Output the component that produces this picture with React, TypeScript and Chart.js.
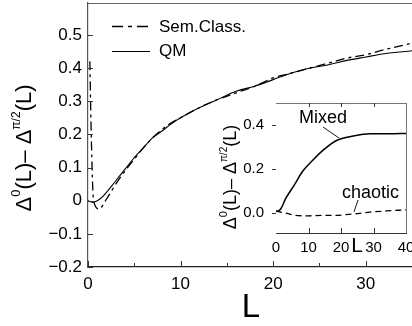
import React, { useEffect, useRef } from "react";
import Chart from "chart.js/auto";

// ---------- data ----------
const semL = [0.2, 0.35, 0.6, 1.2, 2, 3, 4, 5, 6, 7, 8, 9, 10, 12, 14, 16, 18, 20, 22, 24, 26, 28, 30, 32, 35];
const semVal = [0.42, 0.2, 0.0, -0.025, 0.005, 0.05, 0.09, 0.125, 0.16, 0.19, 0.215, 0.235, 0.25, 0.28, 0.305, 0.325, 0.345, 0.37, 0.385, 0.4, 0.415, 0.43, 0.44, 0.455, 0.475];
const qmL = [0, 0.5, 1, 1.5, 2, 3, 4, 5, 6, 7, 8, 9, 10, 12, 14, 16, 18, 20, 22, 24, 26, 28, 30, 32, 35];
const qmVal = [0.0, -0.005, 0.0, 0.01, 0.025, 0.06, 0.095, 0.13, 0.16, 0.19, 0.21, 0.232, 0.25, 0.28, 0.305, 0.33, 0.345, 0.365, 0.385, 0.4, 0.41, 0.423, 0.433, 0.443, 0.452];

const mixedL = [0, 1.5, 3, 5.6, 8.2, 11.3, 14.5, 18.6, 23.8, 29, 35, 40];
const mixedVal = [0.006, 0.02, 0.067, 0.127, 0.19, 0.24, 0.286, 0.33, 0.35, 0.36, 0.36, 0.362];
const chaoticL = [0, 3, 6, 10, 14, 18, 24, 29, 34, 40];
const chaoticVal = [0.01, 0.0, -0.01, -0.012, -0.01, -0.01, -0.003, 0.005, 0.01, 0.015];

const mainXTicks = [0, 10, 20, 30];
const mainXLabels = ["0", "10", "20", "30"];
const mainXMinor = [5, 15, 25];
const mainYTicks = [-0.2, -0.1, 0, 0.1, 0.2, 0.3, 0.4, 0.5];
const mainYLabels = ["\u22120.2", "\u22120.1", "0", "0.1", "0.2", "0.3", "0.4", "0.5"];

const insetXTicks = [0, 10, 20, 30, 40];
const insetXLabels = ["0", "10", "20", "30", "40"];
const insetYTicks = [0, 0.2, 0.4];
const insetYLabels = ["0.0", "0.2", "0.4"];

const legendLabels = ["Sem.Class.", "QM"];
const insetLabels = ["Mixed", "chaotic"];

const FONT = "'Liberation Sans', Arial, Helvetica, sans-serif";

type Part = { t: string; s: number; dy?: number };

function drawRich(ctx: CanvasRenderingContext2D, cx: number, cy: number, parts: Part[], rotate: boolean) {
  ctx.save();
  ctx.translate(cx, cy);
  if (rotate) ctx.rotate(-Math.PI / 2);
  let total = 0;
  for (const p of parts) {
    ctx.font = `${p.s}px ${FONT}`;
    total += ctx.measureText(p.t).width;
  }
  let x = -total / 2;
  ctx.fillStyle = "#000";
  ctx.textBaseline = "alphabetic";
  ctx.textAlign = "left";
  for (const p of parts) {
    ctx.font = `${p.s}px ${FONT}`;
    ctx.fillText(p.t, x, p.dy || 0);
    x += ctx.measureText(p.t).width;
  }
  ctx.restore();
}

function line(ctx: CanvasRenderingContext2D, x1: number, y1: number, x2: number, y2: number) {
  ctx.beginPath();
  ctx.moveTo(x1, y1);
  ctx.lineTo(x2, y2);
  ctx.stroke();
}

const SEM_DASH = [9, 4, 3, 4];

export default function App() {
  const mainRef = useRef<HTMLCanvasElement>(null);
  const insetRef = useRef<HTMLCanvasElement>(null);

  useEffect(() => {
    const mainPlugin = {
      id: "mainDeco",
      afterDraw(chart: any) {
        const ctx: CanvasRenderingContext2D = chart.ctx;
        const { left, right, top, bottom } = chart.chartArea;
        const x = chart.scales.x;
        const y = chart.scales.y;
        ctx.save();
        ctx.strokeStyle = "#666";
        ctx.lineWidth = 1;
        line(ctx, left, top + 0.5, right, top + 0.5);
        ctx.strokeStyle = "#333";
        for (const v of mainYTicks) {
          const py = Math.round(y.getPixelForValue(v)) + 0.5;
          line(ctx, left, py, left + 5, py);
        }
        for (const v of mainXTicks) {
          const px = Math.round(x.getPixelForValue(v)) + 0.5;
          line(ctx, px, bottom, px, bottom - 6);
        }
        for (const v of mainXMinor) {
          const px = Math.round(x.getPixelForValue(v)) + 0.5;
          line(ctx, px, bottom, px, bottom - 4);
        }
        // legend
        ctx.strokeStyle = "#000";
        ctx.lineWidth = 1.3;
        ctx.setLineDash([11, 5, 4, 5]);
        line(ctx, 112, 26.5, 149, 26.5);
        ctx.setLineDash([]);
        ctx.lineWidth = 1.1;
        line(ctx, 112, 51.5, 150, 51.5);
        ctx.fillStyle = "#000";
        ctx.font = `17px ${FONT}`;
        ctx.textBaseline = "middle";
        ctx.textAlign = "left";
        ctx.fillText(legendLabels[0], 159, 27);
        ctx.fillText(legendLabels[1], 159, 51);
        // x title
        ctx.font = `33px ${FONT}`;
        ctx.textAlign = "center";
        ctx.textBaseline = "alphabetic";
        ctx.fillText("L", 251, 317);
        ctx.restore();
        // y title
        drawRich(ctx, 31, 148, [
          { t: "\u0394", s: 22 },
          { t: "0", s: 13, dy: -11 },
          { t: "(L)\u2013 \u0394", s: 22 },
          { t: "\u03c0/2", s: 12, dy: -11 },
          { t: "(L)", s: 22 },
        ], true);
      },
    };

    const main = new Chart(mainRef.current!, {
      type: "line",
      data: {
        datasets: [
          {
            label: legendLabels[0],
            data: semL.map((l, i) => ({ x: l, y: semVal[i] })),
            borderColor: "#000",
            borderWidth: 1.3,
            borderDash: SEM_DASH,
            pointRadius: 0,
            cubicInterpolationMode: "monotone",
          },
          {
            label: legendLabels[1],
            data: qmL.map((l, i) => ({ x: l, y: qmVal[i] })),
            borderColor: "#000",
            borderWidth: 1.1,
            pointRadius: 0,
            cubicInterpolationMode: "monotone",
          },
        ],
      },
      options: {
        animation: false,
        responsive: false,
        devicePixelRatio: 1,
        layout: { padding: { left: 0, top: 3, right: 0, bottom: 0 } },
        plugins: { legend: { display: false }, tooltip: { enabled: false } },
        scales: {
          x: {
            type: "linear",
            min: 0,
            max: 35,
            afterBuildTicks: (s: any) => { s.ticks = mainXTicks.map((v) => ({ value: v })); },
            afterFit: (s: any) => { s.height = 59; s.paddingLeft = 0; s.paddingRight = 0; },
            ticks: {
              autoSkip: false,
              maxRotation: 0,
              padding: 7,
              color: "#000",
              font: { family: FONT, size: 17 },
              callback: (_v: any, i: number) => mainXLabels[i],
            },
            grid: { display: false, drawTicks: false },
            border: { display: true, color: "#222", width: 1.2 },
          },
          y: {
            type: "linear",
            min: -0.2,
            max: 0.596,
            afterBuildTicks: (s: any) => { s.ticks = mainYTicks.map((v) => ({ value: v })); },
            afterFit: (s: any) => { s.width = 88; s.paddingTop = 0; s.paddingBottom = 0; },
            ticks: {
              autoSkip: false,
              padding: 6,
              color: "#000",
              font: { family: FONT, size: 17 },
              callback: (_v: any, i: number) => mainYLabels[i],
            },
            grid: { display: false, drawTicks: false },
            border: { display: true, color: "#555", width: 1.2 },
          },
        },
      },
      plugins: [mainPlugin],
    } as any);

    const insetPlugin = {
      id: "insetDeco",
      beforeDatasetsDraw(chart: any) {
        const ctx: CanvasRenderingContext2D = chart.ctx;
        const { left, right, top, bottom } = chart.chartArea;
        ctx.save();
        ctx.fillStyle = "#fff";
        ctx.fillRect(left, top, right - left, bottom - top);
        ctx.restore();
      },
      afterDraw(chart: any) {
        const ctx: CanvasRenderingContext2D = chart.ctx;
        const { left, right, top, bottom } = chart.chartArea;
        const x = chart.scales.x;
        const y = chart.scales.y;
        ctx.save();
        ctx.strokeStyle = "#777";
        ctx.lineWidth = 1;
        line(ctx, left, top + 0.5, right, top + 0.5);
        line(ctx, right + 0.5, top, right + 0.5, bottom);
        ctx.strokeStyle = "#333";
        for (const v of insetYTicks) {
          const py = Math.round(y.getPixelForValue(v)) + 0.5;
          line(ctx, left - 4, py, left, py);
        }
        for (const v of insetXTicks.slice(1, -1)) {
          const px = Math.round(x.getPixelForValue(v)) + 0.5;
          line(ctx, px, bottom, px, bottom - 5);
          line(ctx, px, top, px, top + 4);
        }
        // annotations
        ctx.fillStyle = "#000";
        ctx.font = `18px ${FONT}`;
        ctx.textAlign = "left";
        ctx.textBaseline = "alphabetic";
        ctx.fillText(insetLabels[0], 299, 123);
        ctx.fillText(insetLabels[1], 342, 198);
        ctx.lineWidth = 0.9;
        ctx.strokeStyle = "#000";
        line(ctx, 323, 127, 339, 138);
        line(ctx, 358, 200, 354, 212);
        // inset x title
        ctx.font = `21px ${FONT}`;
        ctx.textAlign = "center";
        ctx.fillText("L", 357, 252);
        ctx.restore();
        drawRich(ctx, 236, 177, [
          { t: "\u0394", s: 18 },
          { t: "0", s: 11, dy: -9 },
          { t: "(L)\u2013 \u0394", s: 18 },
          { t: "\u03c0/2", s: 10, dy: -9 },
          { t: "(L)", s: 18 },
        ], true);
      },
    };

    const inset = new Chart(insetRef.current!, {
      type: "line",
      data: {
        datasets: [
          {
            label: insetLabels[0],
            data: mixedL.map((l, i) => ({ x: l, y: mixedVal[i] })),
            borderColor: "#000",
            borderWidth: 1.5,
            pointRadius: 0,
            cubicInterpolationMode: "monotone",
          },
          {
            label: insetLabels[1],
            data: chaoticL.map((l, i) => ({ x: l, y: chaoticVal[i] })),
            borderColor: "#000",
            borderWidth: 1.3,
            borderDash: [6, 4],
            pointRadius: 0,
            cubicInterpolationMode: "monotone",
          },
        ],
      },
      options: {
        animation: false,
        responsive: false,
        devicePixelRatio: 1,
        layout: { padding: { left: 0, top: 103, right: 6, bottom: 0 } },
        plugins: { legend: { display: false }, tooltip: { enabled: false } },
        scales: {
          x: {
            type: "linear",
            min: 0,
            max: 40,
            afterBuildTicks: (s: any) => { s.ticks = insetXTicks.map((v) => ({ value: v })); },
            afterFit: (s: any) => { s.height = 93; s.paddingLeft = 0; s.paddingRight = 0; },
            ticks: {
              autoSkip: false,
              maxRotation: 0,
              padding: 6,
              color: "#000",
              font: { family: FONT, size: 15 },
              callback: (_v: any, i: number) => insetXLabels[i],
            },
            grid: { display: false, drawTicks: false },
            border: { display: true, color: "#333", width: 1 },
          },
          y: {
            type: "linear",
            min: -0.09,
            max: 0.5,
            afterBuildTicks: (s: any) => { s.ticks = insetYTicks.map((v) => ({ value: v })); },
            afterFit: (s: any) => { s.width = 276; s.paddingTop = 0; s.paddingBottom = 0; },
            ticks: {
              autoSkip: false,
              padding: 12,
              color: "#000",
              font: { family: FONT, size: 15 },
              callback: (_v: any, i: number) => insetYLabels[i],
            },
            grid: { display: false, drawTicks: false },
            border: { display: true, color: "#555", width: 1 },
          },
        },
      },
      plugins: [insetPlugin],
    } as any);

    return () => {
      main.destroy();
      inset.destroy();
    };
  }, []);

  return (
    <div style={{ position: "fixed", left: 0, top: 0, width: 412, height: 326, background: "#fff" }}>
      <canvas ref={mainRef} width={412} height={326} style={{ position: "absolute", left: 0, top: 0 }} />
      <canvas ref={insetRef} width={412} height={326} style={{ position: "absolute", left: 0, top: 0 }} />
    </div>
  );
}
